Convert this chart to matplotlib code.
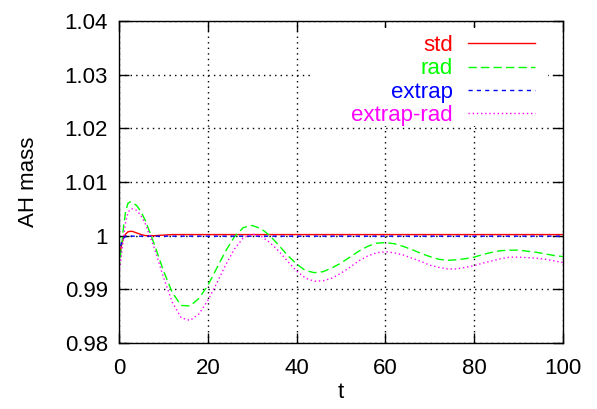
import matplotlib
matplotlib.use('Agg')
import matplotlib.pyplot as plt
from matplotlib.patches import Rectangle

# time samples and AH mass for each run
t = [0, 0.5, 1, 1.5, 2, 2.5, 3, 4, 5, 6, 8, 10, 12, 14, 16, 18, 20, 22, 24, 26, 28,
     30, 32, 34, 36, 38, 40, 42, 44, 46, 48, 50, 52, 54, 56, 58, 60, 62, 64, 66,
     68, 70, 72, 74, 76, 78, 80, 82, 84, 86, 88, 90, 92, 94, 96, 98, 100]

std = [0.9955, 0.9980, 0.9995, 1.0003, 1.0007, 1.0008, 1.0008, 1.0005, 1.0002, 1.0000,
       1.0000, 1.0001, 1.0002, 1.0002, 1.0002, 1.0002, 1.0002, 1.0002, 1.0002, 1.0002,
       1.0002, 1.0002, 1.0002, 1.0002, 1.0002, 1.0002, 1.0002, 1.0002, 1.0002, 1.0002,
       1.0002, 1.0002, 1.0002, 1.0002, 1.0002, 1.0002, 1.0002, 1.0002, 1.0002, 1.0002,
       1.0002, 1.0002, 1.0002, 1.0002, 1.0002, 1.0002, 1.0002, 1.0002, 1.0002, 1.0002,
       1.0002, 1.0002, 1.0002, 1.0002, 1.0002, 1.0002, 1.0002]

rad = [0.9936, 0.9975, 1.0015, 1.0045, 1.0060, 1.0063, 1.0062, 1.0056, 1.0044, 1.0027,
       0.9983, 0.9935, 0.9894, 0.9870, 0.9869, 0.9883, 0.9907, 0.9939, 0.9971, 0.9998,
       1.0015, 1.0019, 1.0013, 1.0000, 0.9982, 0.9963, 0.9947, 0.9935, 0.9931, 0.9933,
       0.9940, 0.9949, 0.9960, 0.9971, 0.9980, 0.9986, 0.9987, 0.9985, 0.9980, 0.9974,
       0.9967, 0.9961, 0.9956, 0.9954, 0.9955, 0.9957, 0.9960, 0.9965, 0.9969, 0.9972,
       0.9973, 0.9973, 0.9971, 0.9969, 0.9966, 0.9963, 0.9961]

extrap = [0.9965, 0.9985, 0.9995, 0.9999, 1.0000, 1.0000, 0.9999, 0.9999, 0.9999, 0.9999,
          0.9999, 0.9999, 0.9999, 0.9999, 0.9999, 0.9999, 0.9999, 0.9999, 0.9999, 0.9999,
          0.9999, 0.9999, 0.9999, 0.9999, 0.9999, 0.9999, 0.9999, 0.9999, 0.9999, 0.9999,
          0.9999, 0.9999, 0.9999, 0.9999, 0.9999, 0.9999, 0.9999, 0.9999, 0.9999, 0.9999,
          0.9999, 0.9999, 0.9999, 0.9999, 0.9999, 0.9999, 0.9999, 0.9999, 0.9999, 0.9999,
          0.9999, 0.9999, 0.9999, 0.9999, 0.9999, 0.9999, 0.9999]

extrap_rad = [0.9930, 0.9960, 0.9995, 1.0025, 1.0042, 1.0049, 1.0050, 1.0047, 1.0037, 1.0021,
              0.9976, 0.9923, 0.9876, 0.9847, 0.9842, 0.9854, 0.9879, 0.9911, 0.9945, 0.9975,
              0.9996, 1.0003, 0.9999, 0.9987, 0.9971, 0.9952, 0.9934, 0.9921, 0.9915, 0.9916,
              0.9921, 0.9930, 0.9941, 0.9953, 0.9962, 0.9968, 0.9970, 0.9968, 0.9964, 0.9958,
              0.9952, 0.9945, 0.9941, 0.9938, 0.9938, 0.9941, 0.9944, 0.9949, 0.9953, 0.9957,
              0.9960, 0.9960, 0.9959, 0.9958, 0.9956, 0.9953, 0.9950]

x_ticks = [0, 20, 40, 60, 80, 100]
y_ticks = [0.98, 0.99, 1.0, 1.01, 1.02, 1.03, 1.04]
y_labels = ['0.98', '0.99', '1', '1.01', '1.02', '1.03', '1.04']

plt.rcParams['font.family'] = ['Liberation Sans', 'DejaVu Sans']
plt.rcParams['font.size'] = 16

fig = plt.figure(figsize=(5.97, 4.09), dpi=100)
ax = fig.add_axes([0.1993, 0.1614, 0.7437, 0.7873])

ax.plot(t, std, color='#ff0000', lw=1.0, label='std')
ax.plot(t, rad, color='#00ff00', lw=1.0, dashes=(6, 3), label='rad')
ax.plot(t, extrap, color='#0000ff', lw=1.0, dashes=(3, 3), label='extrap')
ax.plot(t, extrap_rad, color='#ff00ff', lw=1.0, dashes=(1, 2), label='extrap-rad')

ax.set_xlim(0, 100)
ax.set_ylim(0.98, 1.04)
ax.set_xticks(x_ticks)
ax.set_yticks(y_ticks)
ax.set_yticklabels(y_labels)
ax.tick_params(direction='in', length=7, width=1, top=True, right=True)
ax.tick_params(axis='x', pad=11)
ax.tick_params(axis='y', pad=8)
ax.grid(True, color='black', linestyle=(0, (1, 3)), linewidth=1.0)
for s in ax.spines.values():
    s.set_linewidth(1.0)

ax.set_xlabel('t', labelpad=2)
ax.set_ylabel('AH mass', labelpad=18)

# gnuplot-style key: white box hiding the grid, no border
ax.add_patch(Rectangle((0.437, 0.674), 0.529, 0.304, transform=ax.transAxes,
                       facecolor='white', edgecolor='none', zorder=1.8))
leg = ax.legend(loc='upper right', bbox_to_anchor=(0.937, 0.956), markerfirst=False,
                frameon=False, handlelength=3.0, labelspacing=0.1,
                borderaxespad=0, handletextpad=0.7, borderpad=0)
for txt, line in zip(leg.get_texts(), leg.get_lines()):
    txt.set_color(line.get_color())
    txt.set_ha('right')

fig.savefig('out.png', dpi=100)
